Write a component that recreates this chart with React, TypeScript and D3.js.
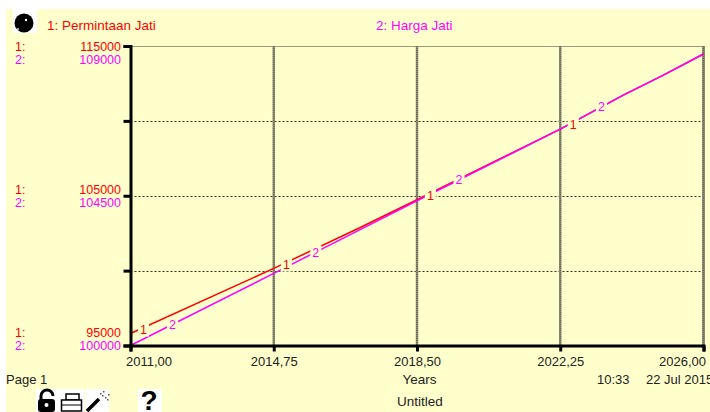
import React, { useRef, useEffect } from 'react'
import * as d3 from 'd3'

const times = [2011, 2014.75, 2017, 2018.5, 2022.25, 2023.9, 2024.95, 2026]
const permintaan = [95800, 100150, 102860, 104730, 109450, 111720, 113060, 114465]
const harga = [100000, 102167, 103476, 104350, 106500, 107525, 108127, 108760]
const xTicks = [2011, 2014.75, 2018.5, 2022.25, 2026]
const permintaanTicks = [95000, 105000, 115000]
const hargaTicks = [100000, 104500, 109000]
const permintaanLabelTimes = [2011.34, 2015.08, 2018.85, 2022.59]
const hargaLabelTimes = [2012.1, 2015.85, 2019.6, 2023.33]

const BG = '#ffffcc'
const RED = '#ff0000'
const MAGENTA = '#ff00ff'
const FONT = '"Liberation Sans", Arial, sans-serif'

const fmtTime = (d: number) => d.toFixed(2).replace('.', ',')

export default function App() {
  const ref = useRef<SVGSVGElement>(null)

  useEffect(() => {
    const svg = d3.select(ref.current)
    svg.selectAll('*').remove()

    const left = 130.5
    const right = 703.5
    const top = 46
    const bottom = 345.5

    const x = d3.scaleLinear().domain([2011, 2026]).range([left, right])
    const y1 = d3.scaleLinear().domain([95000, 115000]).range([bottom, top])
    const y2 = d3.scaleLinear().domain([100000, 109000]).range([bottom, top])

    svg.append('rect').attr('x', 6).attr('y', 9).attr('width', 704).attr('height', 403).attr('fill', BG)

    // grid
    const yGrid = [0, 0.25, 0.5, 0.75, 1].map((f) => top + (bottom - top) * f)
    yGrid.slice(0, 4).forEach((gy, i) => {
      svg.append('line')
        .attr('x1', left).attr('x2', right)
        .attr('y1', Math.round(gy) + 0.5).attr('y2', Math.round(gy) + 0.5)
        .attr('stroke', '#333322')
        .attr('stroke-width', 1)
        .attr('stroke-dasharray', i === 0 ? '1,1' : '2,2')
    })
    xTicks.slice(1).forEach((t, i) => {
      svg.append('line')
        .attr('x1', x(t)).attr('x2', x(t))
        .attr('y1', top).attr('y2', bottom)
        .attr('stroke', '#8e8e74')
        .attr('stroke-width', i === 3 ? 3 : 2.5)
      svg.append('line')
        .attr('x1', x(t)).attr('x2', x(t))
        .attr('y1', top).attr('y2', bottom)
        .attr('stroke', '#66665a')
        .attr('stroke-width', 1.5)
        .attr('stroke-dasharray', '1,1')
    })

    // series
    const line = d3.line<number>()
      .x((_, i) => x(times[i]))
      .y((d, i, arr) => (arr === permintaan ? y1(d) : y2(d)))

    svg.append('path').attr('d', line(permintaan)).attr('fill', 'none').attr('stroke', RED).attr('stroke-width', 1.5)
    svg.append('path').attr('d', line(harga)).attr('fill', 'none').attr('stroke', MAGENTA).attr('stroke-width', 1.5)

    // numbered labels sitting on the lines
    const drawLabels = (ts: number[], vals: number[], yScale: d3.ScaleLinear<number, number>, text: string, color: string, dy: number) => {
      const at = d3.scaleLinear().domain(times).range(vals)
      ts.forEach((t) => {
        const px = x(t)
        const py = yScale(at(t)) + dy
        svg.append('rect').attr('x', px - 5.5).attr('y', py - 7).attr('width', 11).attr('height', 14).attr('fill', BG)
        svg.append('text')
          .attr('x', px).attr('y', py + 4.5)
          .attr('text-anchor', 'middle')
          .attr('font-family', FONT).attr('font-size', 12.5)
          .attr('fill', color)
          .text(text)
      })
    }
    drawLabels(permintaanLabelTimes, permintaan, y1, '1', RED, 2)
    drawLabels(hargaLabelTimes, harga, y2, '2', MAGENTA, 0)

    // axes
    const xAxis = d3.axisBottom(x).tickValues(xTicks).tickFormat((d) => fmtTime(+d)).tickSize(6).tickPadding(5)
    const gx = svg.append('g').attr('transform', `translate(0,${bottom})`).call(xAxis)
    gx.select('.domain').attr('stroke', '#000').attr('stroke-width', 3)
    gx.selectAll('.tick line').attr('stroke', '#000').attr('stroke-width', 3)
    gx.selectAll('text').attr('font-family', FONT).attr('font-size', 13).attr('fill', '#222')
    // end labels stay inside the plot width
    gx.selectAll<SVGTextElement, number>('text')
      .attr('text-anchor', (d) => (d === 2011 ? 'start' : d === 2026 ? 'end' : 'middle'))
      .attr('dx', (d) => (d === 2011 ? -5 : d === 2026 ? 2 : 0))

    const yAxis = d3.axisLeft(y1).tickValues(d3.range(95000, 115001, 5000)).tickFormat(() => '').tickSize(7)
    const gy = svg.append('g').attr('transform', `translate(${left},0)`).call(yAxis)
    gy.select('.domain').attr('stroke', '#000').attr('stroke-width', 3)
    gy.selectAll('.tick line').attr('stroke', '#000').attr('stroke-width', 3)

    // scale labels to the left of the axis
    const addText = (tx: number, ty: number, s: string, color: string, anchor = 'start', size = 12.5) =>
      svg.append('text')
        .attr('x', tx).attr('y', ty)
        .attr('text-anchor', anchor)
        .attr('font-family', FONT).attr('font-size', size)
        .attr('fill', color)
        .text(s)

    permintaanTicks.forEach((v, i) => {
      const ty = y1(v) + [-8.5, -1.5, 5][i]
      addText(15, ty, '1:', RED)
      addText(121, ty, String(v), RED, 'end')
    })
    hargaTicks.forEach((v, i) => {
      const ty = y2(v) + [4.5, 11, 17.5][i]
      addText(15, ty, '2:', MAGENTA)
      addText(121, ty, String(v), MAGENTA, 'end')
    })

    // legend
    addText(47, 30, '1: Permintaan Jati', RED, 'start', 13.5)
    addText(376, 30, '2: Harga Jati', MAGENTA, 'start', 13.5)

    // footer
    addText(6, 384, 'Page 1', '#222', 'start', 13)
    addText(419.5, 384, 'Years', '#222', 'middle', 13.5)
    addText(597, 384, '10:33', '#222', 'start', 13)
    addText(646, 384, '22 Jul 2015', '#222', 'start', 13)
    addText(420, 406, 'Untitled', '#222', 'middle', 13.5)

    // sphere icon
    svg.append('rect').attr('x', 13).attr('y', 9).attr('width', 24).attr('height', 24).attr('fill', '#fff')
    svg.append('circle').attr('cx', 24).attr('cy', 23).attr('r', 9.5).attr('fill', '#000')
    svg.append('circle').attr('cx', 26).attr('cy', 20).attr('r', 1.2).attr('fill', '#fff')
    svg.append('circle').attr('cx', 18).attr('cy', 29).attr('r', 1).attr('fill', '#ccc')

    // toolbar icons
    const icons = svg.append('g')
    ;[[36, 24], [60, 24], [85, 24], [138, 24]].forEach(([ix, w]) => {
      icons.append('rect').attr('x', ix).attr('y', 389).attr('width', w).attr('height', 23).attr('fill', '#fff')
    })
    // lock
    icons.append('path').attr('d', 'M41 400v-4a6 6 0 0 1 12 0').attr('fill', 'none').attr('stroke', '#000').attr('stroke-width', 3)
    icons.append('rect').attr('x', 38).attr('y', 399).attr('width', 17).attr('height', 13).attr('rx', 3).attr('fill', '#000')
    icons.append('circle').attr('cx', 46.5).attr('cy', 405).attr('r', 2).attr('fill', '#fff')
    // printer
    icons.append('rect').attr('x', 66).attr('y', 394).attr('width', 13).attr('height', 6).attr('fill', '#fff').attr('stroke', '#000').attr('stroke-width', 1.5)
    icons.append('rect').attr('x', 61.5).attr('y', 400).attr('width', 20).attr('height', 11).attr('fill', '#fff').attr('stroke', '#000').attr('stroke-width', 1.5)
    icons.append('line').attr('x1', 62).attr('x2', 81).attr('y1', 405).attr('y2', 405).attr('stroke', '#000')
    // wand
    icons.append('line').attr('x1', 87).attr('y1', 411).attr('x2', 99).attr('y2', 399).attr('stroke', '#000').attr('stroke-width', 3.5)
    ;[[103, 391], [108, 394], [105, 397], [100, 393], [107, 399], [102, 395]].forEach(([sx, sy]) => {
      icons.append('rect').attr('x', sx).attr('y', sy).attr('width', 1.5).attr('height', 1.5).attr('fill', '#555')
    })
    // help
    icons.append('text').attr('x', 149).attr('y', 410).attr('text-anchor', 'middle')
      .attr('font-family', FONT).attr('font-weight', 'bold').attr('font-size', 28).attr('fill', '#000').text('?')
  }, [])

  return (
    <svg
      ref={ref}
      width={710}
      height={412}
      style={{ position: 'absolute', left: 0, top: 0, display: 'block' }}
    />
  )
}
